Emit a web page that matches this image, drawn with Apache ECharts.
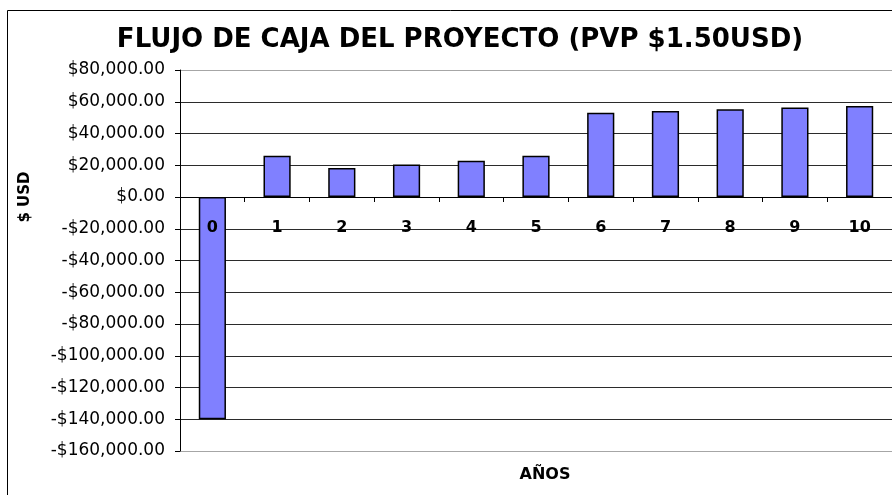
<!DOCTYPE html>
<html>
<head>
<meta charset="utf-8">
<script src="https://cdn.jsdelivr.net/npm/echarts@6/dist/echarts.min.js"></script>
<style>
    html, body { margin: 0; padding: 0; background: #fff; }
    #flujoChart { width: 892px; height: 495px; }
</style>
</head>
<body>
<div id="flujoChart"></div>
<script>
// datos del flujo de caja
const anios = ['0', '1', '2', '3', '4', '5', '6', '7', '8', '9', '10'];
const flujo = [-140000, 26000, 18300, 20400, 22900, 26000, 53100, 54200, 55200, 56300, 57300];
const ejeMin = -160000;
const ejeMax = 80000;
const ejePaso = 20000;

// area del grafico (px)
const gridTop = 70;
const gridAlto = 381;

// formato de moneda: $80,000.00 / -$20,000.00
function formatoUSD(v) {
    const s = Math.abs(v).toFixed(2).replace(/\B(?=(\d{3})+(?!\d))/g, ',');
    return (v < 0 ? '-$' : '$') + s;
}

window.addEventListener('DOMContentLoaded', function() {
    const chartDom = document.getElementById('flujoChart');
    const myChart = echarts.init(chartDom);

    // linea superior e inferior del area en gris, el resto oscuras
    const nLineas = (ejeMax - ejeMin) / ejePaso + 1;
    const coloresLineas = [];
    for (let i = 0; i < nLineas; i++) {
        coloresLineas.push(i === 0 || i === nLineas - 1 ? '#a6a6a6' : '#2b2b2b');
    }

    // el eje de categorias va sobre el cero
    const distCero = gridAlto * (0 - ejeMin) / (ejeMax - ejeMin);
    const yCero = gridTop + gridAlto - distCero;

    const option = {
        animation: false,
        textStyle: { fontFamily: 'DejaVu Sans' },
        title: [
            {
                text: 'FLUJO DE CAJA DEL PROYECTO (PVP $1.50USD)',
                left: 455,
                top: 22,
                textAlign: 'center',
                textStyle: { fontSize: 26, fontWeight: 'bold', color: '#000', fontFamily: 'DejaVu Sans' }
            },
            {
                text: 'AÑOS',
                left: 540,
                top: 462,
                textAlign: 'center',
                textStyle: { fontSize: 16, fontWeight: 'bold', color: '#000', fontFamily: 'DejaVu Sans' }
            }
        ],
        graphic: [
            {
                type: 'rect',
                shape: { x: 7.5, y: 10.5, width: 1000, height: 600 },
                style: { fill: 'none', stroke: '#000', lineWidth: 1 },
                silent: true
            },
            {
                type: 'text',
                x: 25,
                y: yCero,
                rotation: Math.PI / 2,
                style: {
                    text: '$ USD',
                    textAlign: 'center',
                    textVerticalAlign: 'middle',
                    font: 'bold 15px "DejaVu Sans"',
                    fill: '#000'
                },
                silent: true
            }
        ],
        grid: {
            left: 180,
            top: gridTop,
            width: 720,
            height: gridAlto
        },
        xAxis: {
            type: 'category',
            data: anios,
            position: 'bottom',
            offset: -distCero,
            z: 10,
            axisLine: { onZero: false, lineStyle: { color: '#000', width: 1 } },
            axisTick: { show: true, length: 5, lineStyle: { color: '#000' } },
            axisLabel: { fontSize: 16, fontWeight: 'bold', color: '#000', margin: 23 },
            splitLine: { show: false }
        },
        yAxis: {
            type: 'value',
            min: ejeMin,
            max: ejeMax,
            interval: ejePaso,
            axisLine: { show: true, lineStyle: { color: '#000' } },
            axisTick: { show: true, length: 5, lineStyle: { color: '#000' } },
            axisLabel: { fontSize: 17, color: '#000', margin: 15, formatter: formatoUSD },
            splitLine: { show: true, lineStyle: { color: coloresLineas, width: 1 } }
        },
        series: [
            {
                name: 'Flujo',
                type: 'bar',
                data: flujo,
                barWidth: '42%',
                itemStyle: {
                    color: '#8080ff',
                    borderColor: '#000',
                    borderWidth: 1.5
                }
            }
        ]
    };

    myChart.setOption(option);
    window.addEventListener('resize', () => myChart.resize());
});
</script>
</body>
</html>
